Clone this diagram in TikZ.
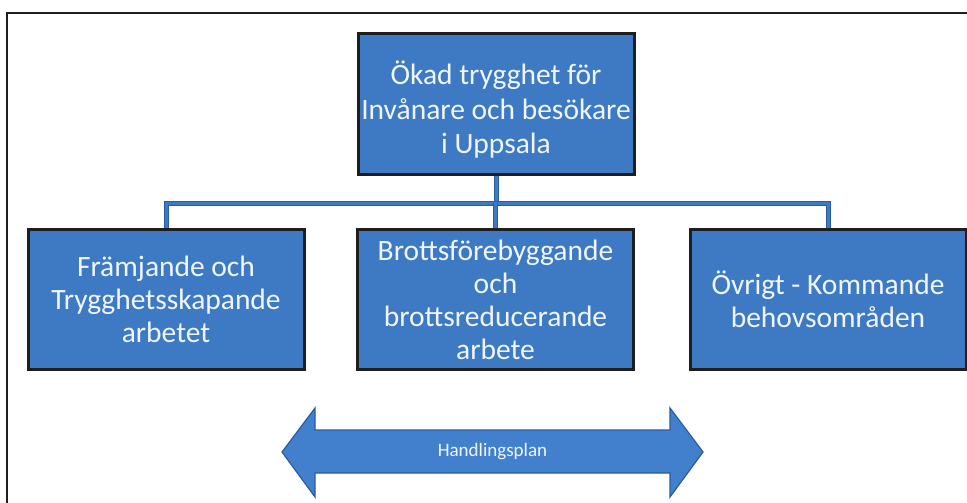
\documentclass[tikz,border=0pt]{standalone}
\usepackage{fontspec}
\setmainfont{Carlito}
\definecolor{boxblue}{RGB}{62,121,196}
\definecolor{arrowblue}{RGB}{66,128,206}
\definecolor{edgeblue}{RGB}{40,92,160}
\definecolor{txt}{RGB}{240,246,255}
\definecolor{frame}{RGB}{30,30,30}
\tikzset{
  box/.style={draw=frame, line width=3pt, fill=boxblue, minimum width=276pt, minimum height=140pt,
    align=center, text=txt, font=\fontsize{29.5}{33}\selectfont, inner sep=0pt},
  conn/.style={draw=edgeblue, line width=1pt, double=boxblue, double distance=3pt},
}
\begin{document}
\begin{tikzpicture}[x=1pt,y=-1pt]
\useasboundingbox (0,0) rectangle (967,503);
\fill[white] (0,0) rectangle (967,503);
\draw[frame, line width=2pt] (6.5,510) -- (6.5,13.5) -- (975,13.5);
\node[box] (top) at (496,104) {};
\node[text=txt, align=center, font=\fontsize{29.5}{34.5}\selectfont] (toptext) at (496,110) {Ökad trygghet för\\Invånare och besökare\\i Uppsala};
\node[box] (l) at (166,299.5) {Främjande och\\Trygghetsskapande\\arbetet};
\node[box] (m) at (495.5,299.5) {Brottsförebyggande\\och\\brottsreducerande\\arbete};
\node[box] (r) at (828,299.5) {Övrigt - Kommande\\behovsområden};
\coordinate (bus) at (496,203);
\draw[conn] (top.south) -- (top.south |- bus);
\draw[conn] (l.north) |- (r.north |- bus) -- (r.north);
\draw[conn] (m.north) -- (m.north |- bus);
\draw[fill=arrowblue, draw=edgeblue, line width=1.2pt, line join=miter]
  (282,452) -- (315,408) -- (315,430) -- (670,430) -- (670,408) -- (703,452)
  -- (670,497) -- (670,473) -- (315,473) -- (315,497) -- cycle;
\node[text=txt, font=\fontsize{19}{22}\selectfont] (plan) at (492.5,452) {Handlingsplan};
\end{tikzpicture}
\end{document}
